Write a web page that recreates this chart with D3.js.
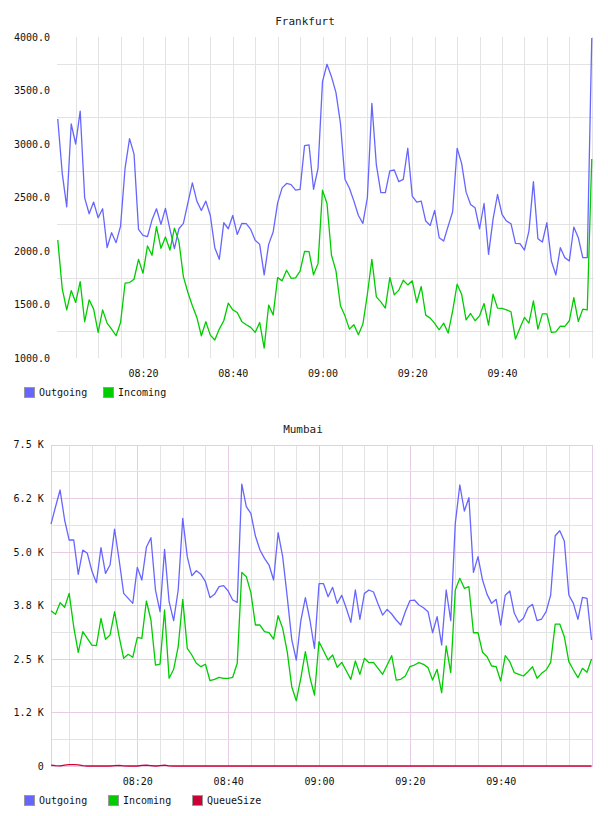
<!DOCTYPE html>
<html><head><meta charset="utf-8">
<script src="https://cdn.jsdelivr.net/npm/d3@7"></script>
<style>body{margin:0;background:#fff}svg{display:block}</style>
</head><body>
<svg id="c" width="608" height="816"></svg>
<script>
// ---------- data ----------
const frkOutgoing = [3234,2726,2413,3187,3000,3308,2497,2348,2457,2311,2395,2031,2171,2078,2233,2773,3050,2906,2202,2146,2134,2289,2395,2249,2398,2202,2022,2208,2258,2450,2637,2466,2379,2466,2332,2031,1922,2264,2208,2332,2155,2258,2255,2202,2100,2062,1776,2062,2177,2450,2590,2631,2621,2569,2575,2985,2991,2577,2773,3583,3745,3629,3480,3193,2670,2586,2466,2332,2258,2500,3380,2804,2545,2545,2748,2757,2648,2670,2960,2513,2457,2466,2280,2239,2379,2124,2093,2233,2367,2960,2819,2550,2435,2404,2208,2444,1969,2295,2528,2342,2280,2255,2072,2068,2009,2186,2648,2115,2084,2264,1907,1776,2031,1938,1907,2224,2124,1938,1938,3990];
const frkIncoming = [2103,1649,1450,1630,1519,1714,1339,1544,1457,1239,1450,1326,1270,1208,1332,1699,1705,1736,1922,1792,2047,1960,2227,2025,2131,2009,2214,2090,1761,1612,1488,1379,1208,1339,1214,1168,1270,1348,1512,1450,1425,1342,1311,1286,1239,1332,1093,1494,1401,1752,1721,1820,1745,1748,1811,1997,1994,1777,1882,2569,2444,1960,1814,1488,1394,1270,1311,1217,1317,1596,1922,1571,1525,1466,1752,1590,1634,1727,1683,1721,1519,1668,1401,1373,1323,1264,1326,1233,1441,1690,1596,1357,1416,1348,1394,1509,1307,1596,1466,1463,1450,1432,1177,1280,1379,1326,1534,1270,1413,1413,1239,1245,1298,1295,1348,1565,1342,1457,1450,2860];
const mumOutgoing = [5648,6052,6442,5742,5275,5275,4474,5041,4964,4551,4279,5096,4497,4691,5531,4808,4030,3913,3797,4637,4341,5104,5329,4108,3602,5057,3835,3392,4108,5781,4886,4442,4559,4474,4302,3929,4007,4186,4209,4085,3874,3820,6582,6052,5897,5368,5041,4847,4691,4341,5445,4886,3952,2950,2474,3392,3929,3408,2747,4255,4255,3952,4171,3797,3984,3681,3354,4108,3424,4030,4108,4061,3781,3524,3657,3548,3408,3291,3602,3859,3874,3758,3695,3602,3111,3485,2824,4108,3392,5664,6559,5952,6263,4520,4886,4341,4007,3797,3890,3291,3984,4085,3564,3354,3447,3695,3774,3392,3431,3602,3991,5375,5492,5252,3991,3797,3424,3937,3913,2941];
const mumIncoming = [3626,3540,3812,3704,4030,3250,2654,3135,2980,2824,2808,3447,2957,3058,3602,3019,2513,2607,2537,3003,2980,3851,3408,2357,2380,3641,2047,2257,2785,3890,2747,2591,2397,2318,2374,1991,2023,2070,2047,2047,2070,2397,4520,4419,4046,3291,3291,3135,3112,2964,3508,3213,2668,1851,1524,2050,2668,2070,1657,2902,2691,2474,2591,2304,2420,2224,2023,2451,2140,2513,2412,2420,2280,2140,2357,2575,2007,2023,2101,2318,2357,2412,2374,2296,2007,2257,1711,2801,2178,4108,4381,4147,4186,3111,3111,2654,2552,2334,2318,1984,2575,2435,2178,2140,2101,2202,2318,2047,2163,2241,2420,3314,3314,3019,2435,2241,2062,2280,2187,2497];
const mumQueue = [20,10,5,20,30,30,25,10,0,0,0,0,0,0,10,15,5,0,0,0,15,20,10,0,10,20,5,0,0,0,0,0,0,0,0,0,0,0,0,0,0,0,0,0,0,0,0,0,0,0,0,0,0,0,0,0,0,0,0,0,0,0,0,0,0,0,0,0,0,0,0,0,0,0,0,0,0,0,0,0,0,0,0,0,0,0,0,0,0,0,0,0,0,0,0,0,0,0,0,0,0,0,0,0,0,0,0,0,0,0,0,0,0,0,0,0,0,0,0,0];

const startTime = "08:01";   // first sample, one sample per minute
const xTickLabels = ["08:20","08:40","09:00","09:20","09:40"];
const frkYTicks = [1000,1500,2000,2500,3000,3500,4000];
const frkYLabels = ["1000.0","1500.0","2000.0","2500.0","3000.0","3500.0","4000.0"];
const mumYTicks = [0,1250,2500,3750,5000,6250,7500];
const mumYLabels = ["0","1.2 K","2.5 K","3.8 K","5.0 K","6.2 K","7.5 K"];
const frkNames = ["Outgoing","Incoming"];
const mumNames = ["Outgoing","Incoming","QueueSize"];
const seriesColors = {Outgoing:"#6666ff", Incoming:"#00cc00", QueueSize:"#cc0033"};

// ---------- helpers ----------
const FONT = "'DejaVu Sans Mono', monospace";
const svg = d3.select("#c");
const day = "2020-01-01 ";
const pt = d3.timePars ? null : null;
const parse = d3.timeParse("%Y-%m-%d %H:%M:%S");
const t0 = parse(day + startTime + ":00");
const times = frkOutgoing.map((_, i) => d3.timeMinute.offset(t0, i));
const tickTimes = xTickLabels.map(s => parse(day + s + ":00"));

function drawChart(cfg) {
  const g = svg.append("g");
  const x = d3.scaleTime().domain([parse(day + cfg.xFrom), parse(day + cfg.xTo)]).range([cfg.left, cfg.right]);
  const y = d3.scaleLinear().domain([cfg.yMin, cfg.yMax]).range([cfg.bottom, cfg.top]);

  // title
  g.append("text").attr("x", cfg.titleX).attr("y", cfg.titleY)
    .attr("text-anchor", "middle").attr("font-family", FONT).attr("font-size", 11)
    .attr("fill", "#222").text(cfg.title);

  const grid = g.append("g").attr("shape-rendering", "crispEdges");
  // vertical minor grid every 5 min
  const vMinor = d3.timeMinute.every(5).range(x.domain()[0], x.domain()[1]);
  grid.selectAll(".vm").data(vMinor).join("line")
    .attr("x1", d => Math.round(x(d)) + 0.5).attr("x2", d => Math.round(x(d)) + 0.5)
    .attr("y1", cfg.top).attr("y2", cfg.bottom)
    .attr("stroke", d => (cfg.majorColor && d.getMinutes() % 20 === 0) ? cfg.majorColor : cfg.minorColor);
  // horizontal grid
  grid.selectAll(".hm").data(cfg.hMinor).join("line")
    .attr("x1", cfg.left).attr("x2", cfg.right)
    .attr("y1", d => Math.round(y(d)) + 0.5).attr("y2", d => Math.round(y(d)) + 0.5)
    .attr("stroke", cfg.minorColor);
  if (cfg.hMajor) {
    grid.selectAll(".hM").data(cfg.hMajor).join("line")
      .attr("x1", cfg.left).attr("x2", cfg.right)
      .attr("y1", d => Math.round(y(d)) + 0.5).attr("y2", d => Math.round(y(d)) + 0.5)
      .attr("stroke", cfg.majorColor);
  }
  if (cfg.border) {
    grid.append("rect").attr("x", cfg.left + 0.5).attr("y", cfg.top + 0.5)
      .attr("width", cfg.right - cfg.left - 1).attr("height", cfg.bottom - cfg.top)
      .attr("fill", "none").attr("stroke", cfg.majorColor);
  }

  // axes
  const yAxis = d3.axisLeft(y).tickValues(cfg.yTicks)
    .tickFormat((d, i) => cfg.yLabels[i]).tickSize(0).tickPadding(cfg.yPad);
  const ya = g.append("g").attr("transform", `translate(${cfg.left},0)`).call(yAxis);
  ya.select(".domain").remove();
  ya.selectAll("text").attr("font-family", FONT).attr("font-size", 10).attr("fill", "#111");

  const xAxis = d3.axisBottom(x).tickValues(tickTimes)
    .tickFormat((d, i) => xTickLabels[i]).tickSize(0).tickPadding(cfg.xPad);
  const xa = g.append("g").attr("transform", `translate(0,${cfg.bottom})`).call(xAxis);
  xa.select(".domain").remove();
  xa.selectAll("text").attr("font-family", FONT).attr("font-size", 10).attr("fill", "#111");

  // series
  const line = d3.line().x((d, i) => x(times[i])).y(d => y(d));
  cfg.series.forEach(s => {
    g.append("path").datum(s.values).attr("d", line)
      .attr("fill", "none").attr("stroke", seriesColors[s.name])
      .attr("stroke-width", 1.3).attr("stroke-linejoin", "round");
  });

  // legend
  const lg = g.append("g");
  cfg.series.forEach((s, i) => {
    const lx = cfg.legendX[i];
    lg.append("rect").attr("x", lx + 0.5).attr("y", cfg.legendY - 8.5)
      .attr("width", 10).attr("height", 10)
      .attr("fill", seriesColors[s.name]).attr("stroke", "#999");
    lg.append("text").attr("x", lx + 15).attr("y", cfg.legendY)
      .attr("font-family", FONT).attr("font-size", 10).attr("fill", "#111").text(s.name);
  });
}

drawChart({
  title: "Frankfurt", titleX: 305, titleY: 25,
  left: 57, right: 594, top: 37, bottom: 358,
  xFrom: "08:00:50", xTo: "10:00:30",
  yMin: 1000, yMax: 4000, yTicks: frkYTicks, yLabels: frkYLabels, yPad: 7, xPad: 12,
  hMinor: [1250, 1750, 2250, 2750, 3250, 3750], hMajor: null,
  minorColor: "#e3e3e3", majorColor: null, border: false,
  series: [{name: frkNames[0], values: frkOutgoing}, {name: frkNames[1], values: frkIncoming}],
  legendX: [24, 103], legendY: 396
});

drawChart({
  title: "Mumbai", titleX: 303, titleY: 433,
  left: 50.7, right: 593.3, top: 444.7, bottom: 766,
  xFrom: "08:00:56", xTo: "10:00:23",
  yMin: 0, yMax: 7500, yTicks: mumYTicks, yLabels: mumYLabels, yPad: 7, xPad: 12,
  hMinor: [625, 1875, 3125, 4375, 5625, 6875], hMajor: [0, 1250, 2500, 3750, 5000, 6250, 7500],
  minorColor: "#e3e3e3", majorColor: "#e6cce6", border: true,
  series: [{name: mumNames[0], values: mumOutgoing}, {name: mumNames[1], values: mumIncoming}, {name: mumNames[2], values: mumQueue}],
  legendX: [24, 108, 192], legendY: 804
});
</script>
</body></html>
